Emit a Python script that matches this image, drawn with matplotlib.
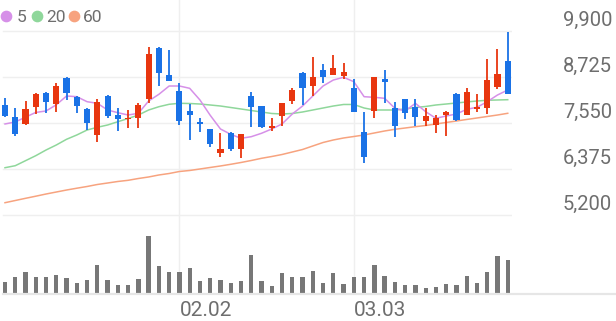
import matplotlib
matplotlib.use("Agg")
import matplotlib.pyplot as plt
from matplotlib.lines import Line2D
import matplotlib.transforms as mtransforms

plt.rcParams['font.family'] = ['Roboto', 'DejaVu Sans']

# ---------------- data ----------------
opens  = [8010, 7696, 7525, 7951, 8316, 8043, 8692, 8206, 7900, 7244,
          8240, 7754, 7652, 7670, 8171, 9458, 8768, 8375, 7857, 7568,
          7389, 6792, 7302, 6886, 8247, 7984, 7415, 7737, 8112, 8835,
          8495, 8904, 8776, 8751, 8436, 7313, 7857, 8674, 7926, 8155,
          7966, 7601, 7499, 7746, 8291, 7754, 7900, 7941, 8462, 9134]
highs  = [8180, 7941, 8112, 8324, 8334, 8564, 8717, 8247, 7926, 8171,
          8265, 7941, 7882, 8053, 9484, 9484, 9415, 8579, 8028, 7670,
          7389, 7287, 7328, 7261, 8334, 7984, 7670, 8053, 8436, 8860,
          9228, 9049, 9287, 9090, 8674, 7839, 8733, 8904, 8094, 8163,
          8163, 7926, 7754, 7857, 8309, 8436, 8283, 9177, 9440, 9867]
lows   = [7712, 7218, 7499, 7772, 7813, 7839, 8138, 7813, 7371, 7072,
          7678, 7353, 7415, 7415, 8053, 8495, 8615, 7499, 7116, 7313,
          6945, 6689, 6843, 6648, 7440, 7415, 7346, 7473, 8028, 8010,
          8247, 8564, 8776, 8674, 7839, 6521, 7670, 8053, 7185, 7652,
          7481, 7473, 7287, 7210, 7609, 7754, 7823, 7780, 8418, 8283]
closes = [7737, 7261, 7900, 8291, 8094, 8503, 8309, 7984, 7558, 8094,
          7729, 7645, 7686, 8010, 9305, 8835, 8615, 7609, 7754, 7525,
          7014, 6886, 6878, 7261, 7951, 7440, 7473, 8053, 8393, 8452,
          8717, 8717, 8947, 8860, 7839, 6689, 8733, 8590, 7481, 7813,
          7712, 7729, 7670, 7839, 7627, 8350, 7951, 8648, 8802, 8283]
volume = [37, 50, 65, 50, 50, 57, 48, 32, 43, 86,
          41, 26, 27, 44, 175, 84, 65, 65, 79, 40,
          47, 41, 32, 38, 118, 40, 25, 64, 52, 52,
          70, 34, 63, 29, 50, 50, 87, 55, 36, 28,
          27, 19, 20, 31, 27, 54, 33, 67, 114, 102]
ma5  = [7525, 7576, 7700, 7820, 7857, 8015, 8240, 8222, 8094, 8053,
        7882, 7813, 7754, 7798, 8112, 8283, 8495, 8495, 8436, 8138,
        7747, 7397, 7261, 7159, 7200, 7287, 7397, 7525, 7780, 7984,
        8240, 8495, 8648, 8717, 8605, 8222, 8206, 8181, 7926, 7857,
        8053, 7839, 7670, 7729, 7780, 7900, 7951, 8094, 8265, 8393]
ma20 = [6408, 6459, 6587, 6715, 6860, 6988, 7134, 7244, 7371, 7440,
        7499, 7583, 7665, 7754, 7882, 7966, 8028, 8053, 8048, 8035,
        8010, 7984, 7946, 7908, 7869, 7831, 7793, 7780, 7793, 7831,
        7882, 7933, 7984, 8023, 8023, 7933, 7882, 7882, 7882, 7908,
        7946, 7972, 8010, 8035, 8061, 8087, 8112, 8130, 8138, 8145]
ma60 = [5514, 5570, 5626, 5680, 5736, 5787, 5838, 5884, 5928, 5979,
        6017, 6056, 6086, 6132, 6171, 6222, 6260, 6311, 6337, 6375,
        6414, 6452, 6495, 6541, 6592, 6648, 6694, 6745, 6809, 6873,
        6963, 7052, 7116, 7167, 7205, 7244, 7295, 7346, 7389, 7422,
        7456, 7486, 7525, 7563, 7601, 7640, 7678, 7716, 7754, 7798]
ma_names = ['5', '20', '60']
ytick_vals = [5200, 6375, 7550, 8725, 9900]
ytick_labels = ['5,200', '6,375', '7,550', '8,725', '9,900']
xtick_idx = [17, 34]
xtick_labels = ['02.02', '03.03']

# ---------------- style ----------------
RED = '#e8360f'
BLUE = '#1a72e6'
MA_COLORS = ['#d690e8', '#8fd79b', '#f7a37f']
GRID = '#efefef'
TXT = '#6e6e6e'

W, H = 616, 321
fig = plt.figure(figsize=(W / 100, H / 100), dpi=100)
fig.patch.set_facecolor('white')

ax = fig.add_axes([0, (H - 220) / H, 512 / W, 220 / H])
axv = fig.add_axes([0, (H - 294) / H, 512 / W, 74 / H])
for a in (ax, axv):
    a.set_xlim(-5 / 10.26, 507 / 10.26)
    a.axis('off')
ax.set_ylim(5072, 10692)
axv.set_ylim(0, 223)

# grid
for v in ytick_vals:
    ax.axhline(v, xmin=3 / 512, color=GRID, lw=1.0, zorder=0)
for i in xtick_idx:
    ax.axvline(i, color=GRID, lw=1.0, zorder=0)
    axv.axvline(i, color=GRID, lw=1.0, zorder=0)

# moving averages
n = len(closes)
xs = list(range(n))
for vals, c in zip([ma60, ma20, ma5], MA_COLORS[::-1]):
    ax.plot(xs, vals, color=c, lw=1.1, zorder=2, solid_joinstyle='round')

# candles
for i in range(n):
    o, h, l, c = opens[i], highs[i], lows[i], closes[i]
    col = RED if c >= o else BLUE
    ax.vlines(i, l, h, color=col, lw=1.3, zorder=3)
    body = max(abs(c - o), 35)
    ax.bar(i, body, bottom=min(o, c), width=0.6, color=col, zorder=4, linewidth=0)

# volume
axv.bar(xs, volume, width=0.42, color='#777777', linewidth=0, zorder=2)
fig.add_artist(Line2D([3 / W, 1], [(H - 294) / H] * 2, color='#e6e6e6', lw=1.6))

# y labels (right side, above grid lines)
ytr = mtransforms.blended_transform_factory(fig.transFigure, ax.transData) + \
    mtransforms.ScaledTranslation(0, 5.5 / 100, fig.dpi_scale_trans)
for v, lab in zip(ytick_vals, ytick_labels):
    ax.text(612 / W, v, lab, transform=ytr, ha='right', va='baseline',
            fontsize=14.5, color=TXT, clip_on=False)

# x labels (left aligned on grid line)
xtr = mtransforms.blended_transform_factory(axv.transData, fig.transFigure)
for i, lab in zip(xtick_idx, xtick_labels):
    axv.text(i, (H - 316.5) / H, lab, transform=xtr, ha='left', va='baseline',
             fontsize=15, color=TXT, clip_on=False)

# legend
leg_dot_x = [6, 37, 74]
leg_txt_x = [16.5, 46.5, 82.5]
for name, c, dx, tx in zip(ma_names, MA_COLORS, leg_dot_x, leg_txt_x):
    fig.add_artist(Line2D([dx / W], [(H - 15.5) / H], marker='o', markersize=7.4,
                          color=c, linestyle='', transform=fig.transFigure))
    fig.text(tx / W, (H - 21.7) / H, name, ha='left', va='baseline',
             fontsize=12.5, color=TXT)

fig.savefig('out.png', dpi=100, facecolor='white')
